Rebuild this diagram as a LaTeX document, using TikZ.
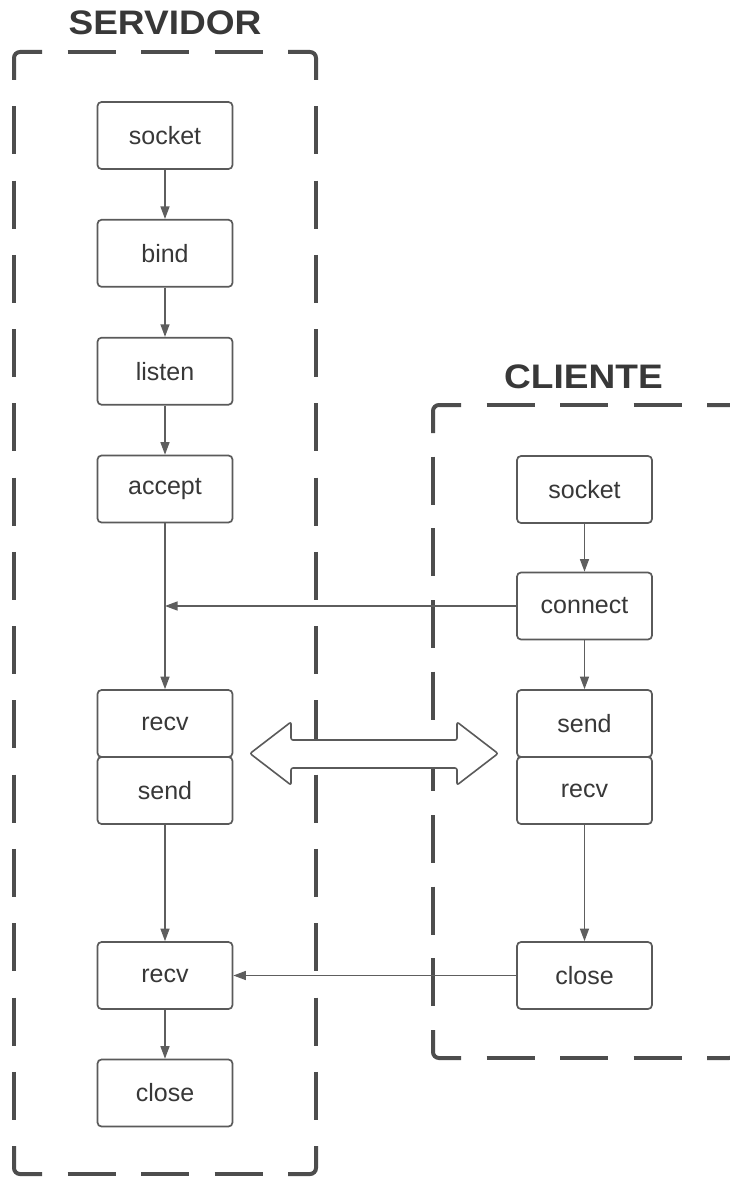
\documentclass[tikz,border=0pt]{standalone}
\usepackage{fontspec}
\setmainfont{Liberation Sans}
\usetikzlibrary{arrows.meta}

\definecolor{framegray}{HTML}{4D4D4D}
\definecolor{boxgray}{HTML}{5A5A5A}
\definecolor{linegray}{HTML}{5E5E5E}
\definecolor{textgray}{HTML}{383838}

\tikzset{
  framestyle/.style={draw=framegray, line width=4pt},
  stepbox/.style={draw=boxgray, line width=1.7pt, rounded corners=4pt, fill=white,
    minimum width=135pt, minimum height=67pt, inner sep=0pt, text=textgray,
    font=\fontsize{25}{30}\selectfont},
  title/.style={text=textgray, anchor=base, inner sep=0pt,
    font=\fontsize{34}{40}\selectfont\bfseries},
  flow/.style={draw=linegray, line width=1.3pt, -{Triangle[length=12.5pt,width=9pt]}},
  xchg/.style={draw=boxgray, line width=1.6pt, fill=white, rounded corners=2pt, line join=round}
}

% dashed frame with solid rounded corners and evenly spread dashes on each side
% #1,#2 top left; #3,#4 bottom right; #5 gap on horizontal sides; #6 gap on vertical sides; #7 dash length
\newcommand{\dashframe}[7]{%
  \begin{scope}[framestyle]
    \draw[rounded corners=6pt] (#1,#2+28) -- (#1,#2) -- (#1+28,#2);
    \draw[rounded corners=6pt] (#3-28,#2) -- (#3,#2) -- (#3,#2+28);
    \draw[rounded corners=6pt] (#3,#4-28) -- (#3,#4) -- (#3-28,#4);
    \draw[rounded corners=6pt] (#1+28,#4) -- (#1,#4) -- (#1,#4-28);
    \draw[dash pattern=on #7pt off #5pt, dash phase=#7pt] (#1+28,#2) -- (#3-28,#2);
    \draw[dash pattern=on #7pt off #5pt, dash phase=#7pt] (#1+28,#4) -- (#3-28,#4);
    \draw[dash pattern=on #7pt off #6pt, dash phase=#7pt] (#1,#2+28) -- (#1,#4-28);
    \draw[dash pattern=on #7pt off #6pt, dash phase=#7pt] (#3,#2+28) -- (#3,#4-28);
  \end{scope}}

\begin{document}
\begin{tikzpicture}[x=1pt, y=-1pt]
  \useasboundingbox (0,0) rectangle (730,1177);
  \clip (0,0) rectangle (730,1177);
  \fill[white] (0,0) rectangle (730,1177);

  % group frames
  \dashframe{14}{52}{316}{1174}{25.5}{26.27}{48}
  \dashframe{433}{405}{735}{1058}{25.5}{23.67}{48}

  % titles
  \node[title] (servt) at (165,35) {\scalebox{1.09}[1]{SERVIDOR}};
  \node[title] (clit) at (583.5,388) {\scalebox{1.09}[1]{CLIENTE}};

  % server steps
  \node[stepbox] (ssock)  at (165,135.5) {socket};
  \node[stepbox] (sbind)  at (165,253.3) {bind};
  \node[stepbox] (slist)  at (165,371.2) {listen};
  \node[stepbox] (sacc)   at (165,489)   {accept};
  \node[stepbox] (srecv)  at (165,723.5) {recv};
  \node[stepbox] (ssend)  at (165,790.5) {send};
  \node[stepbox] (srecvb) at (165,975.5) {recv};
  \node[stepbox] (sclose) at (165,1093)  {close};

  % client steps
  \node[stepbox] (csock)  at (584.5,489.5) {socket};
  \node[stepbox] (cconn)  at (584.5,606)   {connect};
  \node[stepbox] (csend)  at (584.5,723.5) {send};
  \node[stepbox] (crecv)  at (584.5,790.5) {recv};
  \node[stepbox] (cclose) at (584.5,975.5) {close};

  % server flow
  \draw[flow] (ssock) -- (sbind);
  \draw[flow] (sbind) -- (slist);
  \draw[flow] (slist) -- (sacc);
  \draw[flow] (sacc) -- (srecv);
  \draw[flow] (ssend) -- (srecvb);
  \draw[flow] (srecvb) -- (sclose);

  % client flow
  \draw[flow] (csock) -- (cconn);
  \draw[flow] (cconn) -- (csend);
  \draw[flow] (crecv) -- (cclose);

  % messages between the two sides
  \coordinate (join) at (sacc.south |- cconn.west);
  \draw[flow] (cconn.west) -- (join);
  \draw[flow] (cclose.west) -- (srecvb.east);

  % data exchange
  \draw[xchg] (250,753.5) -- (291,722) -- (291,740) -- (457,740) -- (457,722) -- (498,753.5)
    -- (457,785) -- (457,768) -- (291,768) -- (291,785) -- cycle;
\end{tikzpicture}
\end{document}
